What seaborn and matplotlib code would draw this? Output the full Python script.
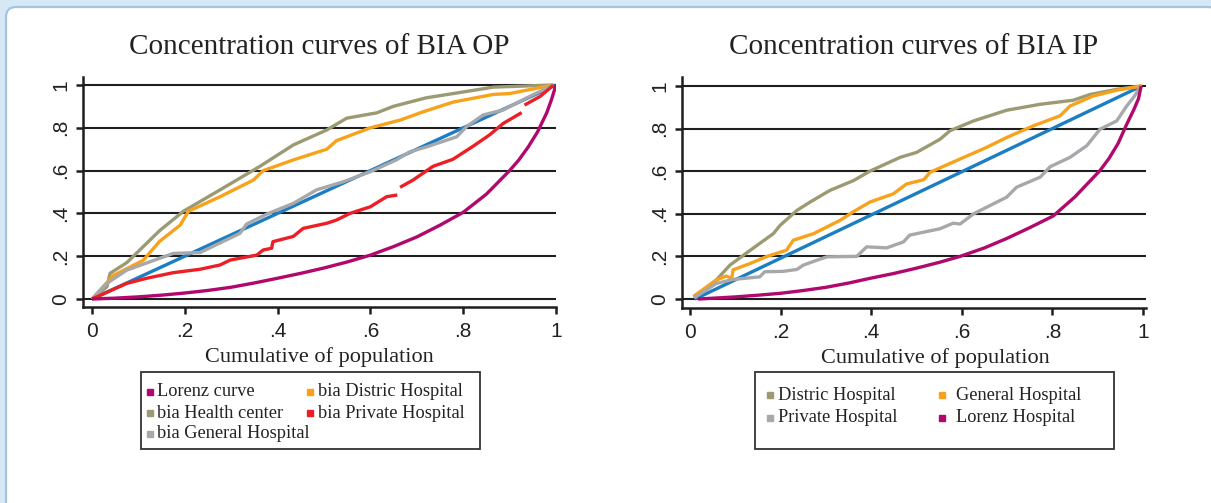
import numpy as np
import matplotlib.pyplot as plt
import matplotlib.patches as mpatches
from matplotlib.lines import Line2D
from matplotlib.transforms import IdentityTransform
import seaborn as sns

# ---- data ----
tick_vals = [0, 0.2, 0.4, 0.6, 0.8, 1]
tick_labels = ["0", ".2", ".4", ".6", ".8", "1"]

# left panel: BIA OP
op_diag_x = [0, 1]
op_diag_y = [0, 1]
op_lorenz_x = [0, 0.05, 0.1, 0.15, 0.2, 0.25, 0.3, 0.35, 0.4, 0.45, 0.5, 0.55, 0.6, 0.65,
               0.7, 0.75, 0.8, 0.85, 0.9, 0.92, 0.94, 0.96, 0.98, 0.99, 1.0]
op_lorenz_y = [0, 0.004, 0.01, 0.018, 0.028, 0.04, 0.055, 0.075, 0.097, 0.12, 0.145, 0.173,
               0.205, 0.245, 0.29, 0.345, 0.405, 0.49, 0.60, 0.65, 0.71, 0.78, 0.87, 0.93, 1.0]
op_health_x = [0, 0.032, 0.039, 0.075, 0.103, 0.146, 0.197, 0.276, 0.362, 0.434, 0.506, 0.549,
               0.614, 0.649, 0.72, 0.793, 0.865, 0.994]
op_health_y = [0, 0.057, 0.12, 0.17, 0.229, 0.32, 0.41, 0.51, 0.62, 0.72, 0.79, 0.845,
               0.87, 0.90, 0.94, 0.965, 0.99, 1.0]
op_distric_x = [0, 0.046, 0.11, 0.146, 0.19, 0.208, 0.276, 0.348, 0.369, 0.434, 0.506, 0.527,
                0.6, 0.664, 0.714, 0.778, 0.865, 0.9, 0.994]
op_distric_y = [0, 0.11, 0.18, 0.27, 0.345, 0.41, 0.478, 0.556, 0.60, 0.65, 0.70, 0.74,
                0.80, 0.836, 0.875, 0.92, 0.956, 0.96, 1.0]
op_general_x = [0, 0.032, 0.075, 0.125, 0.175, 0.233, 0.319, 0.333, 0.376, 0.434, 0.484, 0.542,
                0.6, 0.656, 0.685, 0.72, 0.786, 0.807, 0.843, 0.886, 0.937, 0.994]
op_general_y = [0, 0.073, 0.135, 0.174, 0.213, 0.217, 0.307, 0.35, 0.396, 0.447, 0.51, 0.548,
                0.595, 0.65, 0.688, 0.71, 0.758, 0.805, 0.86, 0.883, 0.94, 1.0]
op_private_x = [0, 0.075, 0.118, 0.175, 0.233, 0.276, 0.298, 0.355, 0.369, 0.387, 0.39, 0.434,
                0.455, 0.506, 0.527, 0.556, 0.6, 0.635, 0.658, np.nan,
                0.664, 0.692, 0.735, 0.778, 0.82, 0.857, 0.886, 0.926, np.nan,
                0.932, 0.966, 0.994]
op_private_y = [0, 0.073, 0.097, 0.123, 0.139, 0.159, 0.182, 0.205, 0.229, 0.237, 0.268, 0.2925,
                0.33, 0.354, 0.369, 0.40, 0.431, 0.478, 0.486, np.nan,
                0.522, 0.556, 0.62, 0.653, 0.712, 0.767, 0.82, 0.871, np.nan,
                0.906, 0.947, 0.9985]

# right panel: BIA IP
ip_diag_x = [0.011, 0.997]
ip_diag_y = [0, 1]
ip_lorenz_x = [0.018, 0.1, 0.15, 0.2, 0.25, 0.3, 0.35, 0.397, 0.45, 0.5, 0.55, 0.596, 0.65,
               0.7, 0.75, 0.802, 0.85, 0.905, 0.925, 0.945, 0.964, 0.98, 0.99, 0.996]
ip_lorenz_y = [0, 0.01, 0.018, 0.027, 0.04, 0.055, 0.075, 0.097, 0.12, 0.145, 0.172, 0.20,
               0.24, 0.285, 0.335, 0.39, 0.48, 0.603, 0.66, 0.73, 0.82, 0.89, 0.94, 1.0]
ip_distric_x = [0.0085, 0.058, 0.088, 0.133, 0.184, 0.199, 0.236, 0.265, 0.309, 0.361, 0.397,
                0.464, 0.5, 0.552, 0.574, 0.626, 0.699, 0.773, 0.846, 0.883, 0.942, 0.997]
ip_distric_y = [0.01, 0.089, 0.159, 0.229, 0.307, 0.346, 0.416, 0.455, 0.51, 0.556, 0.60,
                0.665, 0.688, 0.75, 0.79, 0.836, 0.886, 0.914, 0.933, 0.96, 0.984, 1.0]
ip_general_x = [0.0074, 0.058, 0.08, 0.092, 0.095, 0.133, 0.17, 0.213, 0.228, 0.273, 0.331, 0.361,
                0.397, 0.449, 0.478, 0.516, 0.53, 0.596, 0.655, 0.699, 0.758, 0.817, 0.839,
                0.89, 0.942, 0.997]
ip_general_y = [0.012, 0.089, 0.108, 0.097, 0.137, 0.167, 0.20, 0.229, 0.276, 0.307, 0.369, 0.41,
                0.455, 0.494, 0.54, 0.56, 0.595, 0.657, 0.712, 0.758, 0.813, 0.86, 0.906,
                0.953, 0.98, 1.0]
ip_private_x = [0.0085, 0.058, 0.095, 0.154, 0.165, 0.206, 0.236, 0.25, 0.28, 0.302, 0.368, 0.39,
                0.434, 0.471, 0.485, 0.552, 0.581, 0.596, 0.626, 0.67, 0.699, 0.721, 0.773,
                0.795, 0.839, 0.876, 0.905, 0.942, 0.964, 0.979, 0.994]
ip_private_y = [0.005, 0.073, 0.092, 0.104, 0.128, 0.13, 0.139, 0.159, 0.182, 0.198, 0.20, 0.245,
                0.24, 0.268, 0.30, 0.33, 0.356, 0.352, 0.40, 0.447, 0.478, 0.525, 0.572,
                0.621, 0.665, 0.72, 0.797, 0.836, 0.906, 0.946, 0.995]

# colours
c_lorenz = "#b0086c"
c_diag = "#1b7dc2"
c_olive = "#9b9a72"
c_orange = "#f8a21c"
c_red = "#ec1e26"
c_grey = "#a6a8ab"
c_ink = "#1e1e1e"

sns.set_theme(style="white")
plt.rcParams["font.family"] = ["Liberation Serif", "DejaVu Serif"]

W, H = 1211, 503
fig = plt.figure(figsize=(W / 100, H / 100), dpi=100)
fig.patch.set_facecolor("#d6e7f6")

# white rounded panel with blue border
panel = mpatches.FancyBboxPatch((6, -30), 1212, H - 7 + 30,
                                boxstyle="round,pad=0,rounding_size=10",
                                facecolor="white", edgecolor="#a6c4dd", linewidth=1.6,
                                transform=IdentityTransform(), zorder=0)
fig.add_artist(panel)


def draw_curve(ax, x, y, color):
    """plot a line, splitting it where the data has NaN gaps"""
    x = np.asarray(x, dtype=float)
    y = np.asarray(y, dtype=float)
    breaks = np.where(np.isnan(x))[0]
    start = 0
    for stop in list(breaks) + [len(x)]:
        if stop - start > 1:
            sns.lineplot(x=x[start:stop], y=y[start:stop], ax=ax, color=color, lw=2.4,
                         estimator=None, sort=False, legend=False, solid_capstyle="butt")
        start = stop + 1


def style_axes(ax, title, xlim, ylim, xlabel_x=0.5):
    ax.set_facecolor("none")
    ax.set_xlim(*xlim)
    ax.set_ylim(*ylim)
    for side in ["top", "right"]:
        ax.spines[side].set_visible(False)
    for side in ["left", "bottom"]:
        ax.spines[side].set_linewidth(1.8)
        ax.spines[side].set_color(c_ink)
    ax.set_yticks(tick_vals)
    ax.set_xticks(tick_vals)
    ax.set_xticklabels(tick_labels, fontfamily="Liberation Sans", fontsize=15)
    ax.set_yticklabels(tick_labels, fontfamily="Liberation Sans", fontsize=15,
                       rotation=90, va="center")
    ax.tick_params(axis="both", direction="out", length=5, width=1.8, color=c_ink,
                   labelcolor="#222222", left=True, bottom=True)
    ax.tick_params(axis="x", pad=6)
    ax.tick_params(axis="y", pad=4)
    ax.yaxis.grid(True, color=c_ink, lw=1.5)
    ax.xaxis.grid(False)
    ax.set_axisbelow(True)
    ax.set_xlabel("Cumulative of population", fontsize=16, color="#222222", va="center")
    ax.xaxis.set_label_coords(xlabel_x, -50 / 230)
    ax.set_ylabel("")
    ax.text(0.5, 1 + 30 / 230, title, transform=ax.transAxes, ha="center", va="center",
            fontsize=21, color="#222222")


# left panel
ax1 = fig.add_axes([83 / W, (H - 307) / H, 473 / W, 230 / H])
draw_curve(ax1, op_diag_x, op_diag_y, c_diag)
draw_curve(ax1, op_health_x, op_health_y, c_olive)
draw_curve(ax1, op_distric_x, op_distric_y, c_orange)
draw_curve(ax1, op_general_x, op_general_y, c_grey)
draw_curve(ax1, op_private_x, op_private_y, c_red)
draw_curve(ax1, op_lorenz_x, op_lorenz_y, c_lorenz)
style_axes(ax1, "Concentration curves of BIA OP", (-9 / 464, 1.0), (-8 / 214, 1 + 8 / 214))

# right panel
ax2 = fig.add_axes([682 / W, (H - 308) / H, 464 / W, 231 / H])
draw_curve(ax2, ip_diag_x, ip_diag_y, c_diag)
draw_curve(ax2, ip_distric_x, ip_distric_y, c_olive)
draw_curve(ax2, ip_general_x, ip_general_y, c_orange)
draw_curve(ax2, ip_private_x, ip_private_y, c_grey)
draw_curve(ax2, ip_lorenz_x, ip_lorenz_y, c_lorenz)
style_axes(ax2, "Concentration curves of BIA IP", (-8 / 453, 1 + 3 / 453), (-9 / 214, 1 + 9 / 214),
           xlabel_x=(935 - 682) / 464)


# legends drawn as boxed keys below each panel
def legend_box(x0, x1, y0, y1, entries):
    fig.add_artist(mpatches.Rectangle((x0 / W, 1 - y1 / H), (x1 - x0) / W, (y1 - y0) / H,
                                      transform=fig.transFigure, facecolor="white",
                                      edgecolor="#333333", lw=1.3))
    for label, color, mx, tx, ty in entries:
        fig.add_artist(Line2D([mx / W], [1 - ty / H], marker="s", markersize=4.2,
                              color=color, linestyle="none", transform=fig.transFigure))
        fig.text(tx / W, 1 - ty / H, label, ha="left", va="center", fontsize=13.2,
                 color="#222222")


legend_box(141, 480, 372, 449, [
    ("Lorenz curve", c_lorenz, 150, 157, 392),
    ("bia Health center", c_olive, 150, 157, 413),
    ("bia General Hospital", c_grey, 150, 157, 434),
    ("bia Distric Hospital", c_orange, 310, 318, 392),
    ("bia Private Hospital", c_red, 310, 318, 413),
])
legend_box(755, 1114, 372, 449, [
    ("Distric Hospital", c_olive, 770, 778, 395),
    ("Private Hospital", c_grey, 770, 778, 418),
    ("General Hospital", c_orange, 942, 956, 395),
    ("Lorenz Hospital", c_lorenz, 942, 956, 418),
])

fig.savefig("out.png", dpi=100, facecolor=fig.get_facecolor())
